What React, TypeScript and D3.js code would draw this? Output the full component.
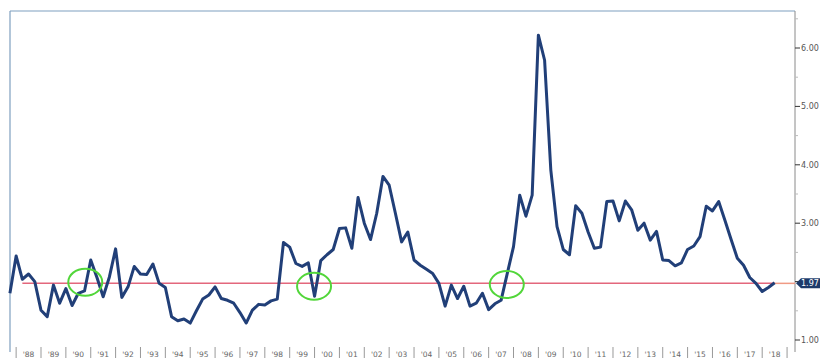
import React from "react";
import * as d3 from "d3";

// Quarterly series, starting Q4 1987
const startYear = 1987.75;
const values: number[] = [
  1.80, 2.44, 2.04, 2.13, 2.00, 1.51, 1.40, 1.94, 1.63, 1.88,
  1.59, 1.80, 1.84, 2.37, 2.07, 1.74, 2.08, 2.56, 1.73, 1.91,
  2.26, 2.13, 2.12, 2.30, 1.97, 1.90, 1.40, 1.33, 1.36, 1.29,
  1.50, 1.70, 1.77, 1.91, 1.71, 1.68, 1.63, 1.47, 1.29, 1.51,
  1.61, 1.60, 1.67, 1.70, 2.67, 2.59, 2.31, 2.26, 2.32, 1.75,
  2.36, 2.46, 2.55, 2.91, 2.92, 2.57, 3.44, 3.00, 2.72, 3.17,
  3.80, 3.65, 3.17, 2.68, 2.85, 2.37, 2.28, 2.21, 2.14, 1.97,
  1.58, 1.94, 1.71, 1.92, 1.58, 1.63, 1.80, 1.52, 1.62, 1.68,
  2.14, 2.60, 3.48, 3.12, 3.48, 6.22, 5.79, 3.91, 2.94, 2.55,
  2.46, 3.30, 3.17, 2.85, 2.57, 2.59, 3.37, 3.38, 3.04, 3.38,
  3.23, 2.88, 3.00, 2.71, 2.86, 2.37, 2.36, 2.27, 2.32, 2.55,
  2.61, 2.77, 3.29, 3.21, 3.37, 3.05, 2.72, 2.40, 2.28, 2.07,
  1.97, 1.83, 1.90, 1.98,
];
const averageValue = 1.97;
const averageStart = 1988.25;
const yearLabels: number[] = d3.range(1988, 2019);
const majorTicks: number[] = [1, 2, 3, 4, 5, 6];
const labelledTicks: number[] = [1, 3, 4, 5, 6]; // 2.00 is hidden behind the value tag
const minorTicks: number[] = [1.5, 2.5, 3.5, 4.5, 5.5, 6.5];
const circleCenters: { t: number; v: number }[] = [
  { t: 1990.78, v: 1.99 },
  { t: 1999.98, v: 1.92 },
  { t: 2007.73, v: 1.95 },
];

const W = 820;
const H = 358;
const plotLeft = 10;
const plotTop = 11;
const axisX = 795;
const plotBottom = 352;

export default function App() {
  const x = d3.scaleLinear().domain([1989, 2018]).range([41, 762.2]);
  const y = d3.scaleLinear().domain([1, 6]).range([340, 48]);

  const pts = values.map((v, i) => ({ t: startYear + i * 0.25, v }));
  const line = d3
    .line<{ t: number; v: number }>()
    .x((d) => x(d.t))
    .y((d) => y(d.v));

  const lastT = pts[pts.length - 1].t;
  const yAvg = y(averageValue);
  const font = "'DejaVu Sans', Verdana, sans-serif";

  return (
    <svg
      width={W}
      height={H}
      style={{ position: "absolute", left: 0, top: 0, background: "#fff" }}
    >
      {/* frame */}
      <line x1={plotLeft} x2={axisX} y1={plotTop} y2={plotTop} stroke="#7f9fbf" strokeWidth={1.2} />
      <line x1={plotLeft} x2={plotLeft} y1={plotTop} y2={plotBottom} stroke="#7f9fbf" strokeWidth={1.2} />
      <line x1={axisX} x2={axisX} y1={plotTop} y2={plotBottom} stroke="#8a8a8a" strokeWidth={1} />

      {/* average line */}
      <line x1={x(averageStart)} x2={x(lastT)} y1={yAvg} y2={yAvg} stroke="#e3677c" strokeWidth={1.5} />
      <line x1={x(lastT)} x2={axisX} y1={yAvg} y2={yAvg} stroke="#f09a84" strokeWidth={1.5} />

      {/* series */}
      <path d={line(pts) || ""} fill="none" stroke="#213f78" strokeWidth={3} strokeLinejoin="round" />

      {/* highlight ellipses */}
      {circleCenters.map((c, i) => (
        <ellipse
          key={i}
          cx={x(c.t)}
          cy={y(c.v)}
          rx={17}
          ry={13.5}
          fill="none"
          stroke="#52d63a"
          strokeWidth={2}
        />
      ))}

      {/* right axis ticks */}
      {minorTicks.map((t) => (
        <line key={"m" + t} x1={axisX} x2={axisX + 3} y1={y(t)} y2={y(t)} stroke="#bbb" strokeWidth={1} />
      ))}
      {majorTicks.map((t) => (
        <line key={"M" + t} x1={axisX} x2={axisX + 5} y1={y(t)} y2={y(t)} stroke="#333" strokeWidth={1} />
      ))}
      {labelledTicks.map((t) => (
        <text key={"L" + t} x={axisX + 6} y={y(t)} dy="0.35em" fontSize={8} fill="#555" fontFamily={font}>
          {t.toFixed(2)}
        </text>
      ))}

      {/* current value tag */}
      <path
        d={`M${axisX + 1},${yAvg} L${axisX + 6},${yAvg - 5} L${W},${yAvg - 5} L${W},${yAvg + 5} L${axisX + 6},${yAvg + 5} Z`}
        fill="#1d3a6a"
      />
      <text x={axisX + 6} y={yAvg} dy="0.35em" fontSize={8} fill="#fff" fontFamily={font}>
        {averageValue.toFixed(2)}
      </text>

      {/* year label row */}
      {yearLabels.map((yr) => (
        <g key={yr}>
          <line x1={x(yr)} x2={x(yr)} y1={plotBottom - 5} y2={H} stroke="#999" strokeWidth={1} />
          <text
            x={x(yr + 0.5)}
            y={H - 1.5}
            textAnchor="middle"
            fontSize={7.5}
            fill="#666"
            fontFamily={font}
          >
            {"'" + String(yr % 100).padStart(2, "0")}
          </text>
        </g>
      ))}
      <line x1={x(2019)} x2={x(2019)} y1={plotBottom - 5} y2={H} stroke="#999" strokeWidth={1} />
    </svg>
  );
}
